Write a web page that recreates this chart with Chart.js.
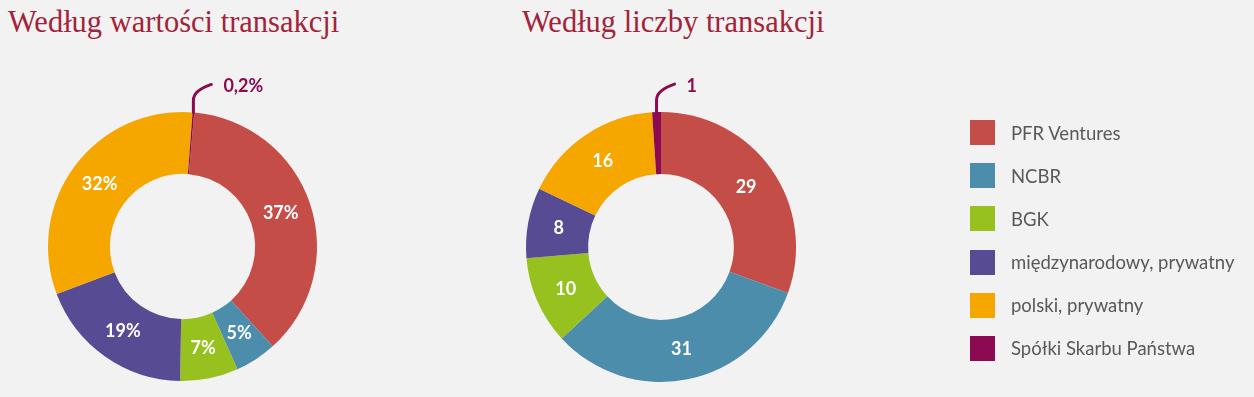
<!DOCTYPE html>
<html lang="pl">
<head>
<meta charset="utf-8">
<title>Według wartości / liczby transakcji</title>
<script src="https://cdn.jsdelivr.net/npm/chart.js@4/dist/chart.umd.min.js"></script>
<style>
    html, body { margin: 0; padding: 0; background: #f2f2f2; }
    body { width: 1254px; height: 397px; position: relative; overflow: hidden; }
    .chart-title {
        position: absolute;
        top: 7px;
        font-family: "Liberation Serif", serif;
        font-size: 30.5px;
        line-height: 30px;
        color: #a3233a;
        white-space: nowrap;
    }
    .chart-box { position: absolute; top: 0; width: 500px; height: 397px; }
    #legend {
        position: absolute;
        left: 970px;
        top: 120px;
        font-family: Lato, sans-serif;
        font-size: 18.5px;
        color: #595959;
    }
    .legend-item { display: flex; align-items: center; height: 25px; margin-bottom: 18.2px; }
    .legend-box { width: 25px; height: 25px; margin-right: 16px; flex: none; }
</style>
</head>
<body>
<div class="chart-title" style="left: 8px;">Według wartości transakcji</div>
<div class="chart-title" style="left: 522px;">Według liczby transakcji</div>
<div class="chart-box" style="left: 0;"><canvas id="value-chart" width="500" height="397"></canvas></div>
<div class="chart-box" style="left: 500px;"><canvas id="count-chart" width="500" height="397"></canvas></div>
<div id="legend"></div>

<script>
const categories = ['PFR Ventures', 'NCBR', 'BGK', 'międzynarodowy, prywatny', 'polski, prywatny', 'Spółki Skarbu Państwa'];
const colors = ['#c44e47', '#4b8dab', '#96c11f', '#574b93', '#f5a700', '#8c0a4f'];

// udział w wartości transakcji (%)
const valueShares = [37, 5, 7, 19, 32, 0.2];
const valueLabels = ['37%', '5%', '7%', '19%', '32%', '0,2%'];

// liczba transakcji
const dealCounts = [29, 31, 10, 8, 16, 1];
const countLabels = ['29', '31', '10', '8', '16', '1'];

document.addEventListener('DOMContentLoaded', () => {
    const calloutColor = '#8c0a4f';

    // etykiety w środku wycinków + odnośnik dla najmniejszego wycinka
    const sliceLabels = {
        id: 'sliceLabels',
        afterDatasetsDraw(chart, args, opts) {
            const ctx = chart.ctx;
            const meta = chart.getDatasetMeta(0);
            ctx.save();
            ctx.font = 'bold 18px Lato, sans-serif';
            ctx.textBaseline = 'middle';
            meta.data.forEach((arc, i) => {
                const text = opts.texts[i];
                if (i === opts.calloutIndex) {
                    const mid = (arc.startAngle + arc.endAngle) / 2;
                    const x0 = arc.x + arc.outerRadius * Math.cos(mid);
                    const y0 = arc.y + arc.outerRadius * Math.sin(mid);
                    ctx.strokeStyle = calloutColor;
                    ctx.lineWidth = 3;
                    ctx.lineCap = 'round';
                    ctx.beginPath();
                    ctx.moveTo(x0, y0);
                    ctx.lineTo(x0, y0 - 12);
                    ctx.quadraticCurveTo(x0, y0 - 22, x0 + 18, y0 - 28);
                    ctx.stroke();
                    ctx.fillStyle = calloutColor;
                    ctx.textAlign = 'left';
                    ctx.fillText(text, x0 + 30, y0 - 26);
                } else {
                    const p = arc.tooltipPosition();
                    ctx.fillStyle = '#ffffff';
                    ctx.textAlign = 'center';
                    ctx.fillText(text, p.x, p.y);
                }
            });
            ctx.restore();
        }
    };

    const makeChart = (canvasId, values, texts, rotation, padding) => {
        return new Chart(document.getElementById(canvasId).getContext('2d'), {
            type: 'doughnut',
            data: {
                labels: categories,
                datasets: [{
                    data: values,
                    backgroundColor: colors,
                    borderWidth: 0
                }]
            },
            options: {
                responsive: false,
                animation: false,
                cutout: '54%',
                rotation: rotation,
                layout: { padding: padding },
                plugins: {
                    legend: { display: false },
                    tooltip: { enabled: false },
                    sliceLabels: { texts: texts, calloutIndex: 5 }
                }
            },
            plugins: [sliceLabels]
        });
    };

    makeChart('value-chart', valueShares, valueLabels, 5, { left: 48, top: 112, right: 183, bottom: 16 });
    makeChart('count-chart', dealCounts, countLabels, 0, { left: 26, top: 112, right: 204, bottom: 15 });

    const legend = document.getElementById('legend');
    categories.forEach((name, i) => {
        const item = document.createElement('div');
        item.className = 'legend-item';
        item.innerHTML = `<span class="legend-box" style="background:${colors[i]}"></span><span>${name}</span>`;
        legend.appendChild(item);
    });
});
</script>
</body>
</html>
